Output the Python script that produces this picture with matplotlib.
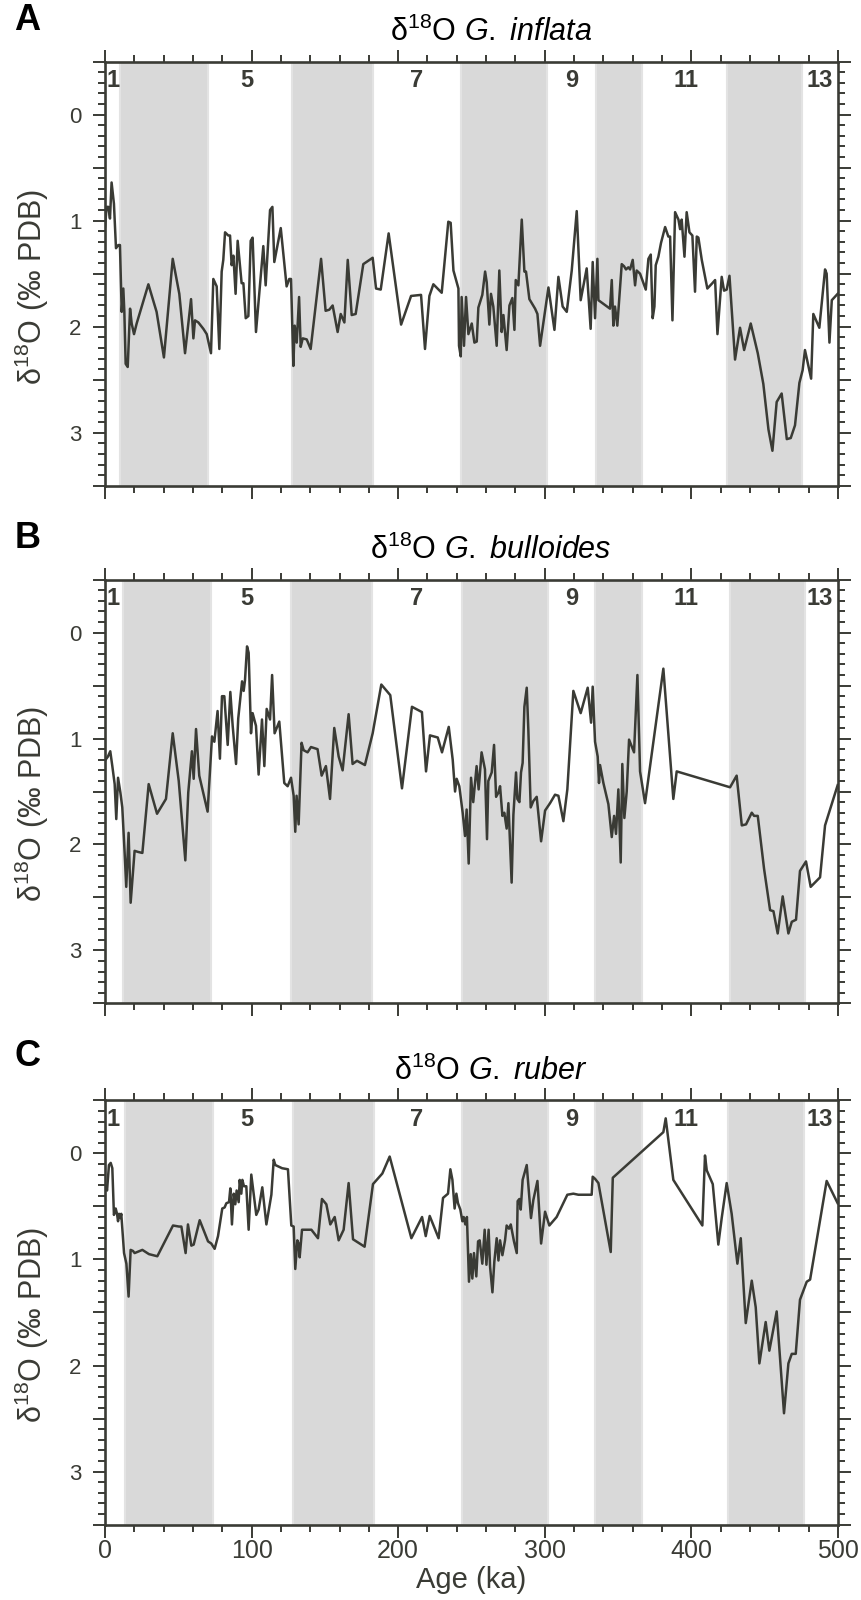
import matplotlib
matplotlib.use("Agg")
import matplotlib.pyplot as plt
from matplotlib.ticker import MultipleLocator, FuncFormatter

# --- data (age in ka, d18O in permil PDB) ---
AGE_A = [0, 1.1, 2.3, 3.4, 4.5, 6.1, 7.5, 9.1, 10.2, 11.4,
         12.5, 13.2, 14.1, 15.5, 17.1, 18.2, 19.8, 21.6, 29.6, 35.2,
         40.2, 46.2, 50.7, 54.6, 58.7, 60.3, 61.4, 63.7, 67.1, 69.4,
         72.3, 73.9, 76.2, 78.0, 79.6, 80.7, 81.9, 84.1, 85.3, 86.4,
         87.6, 89.1, 90.5, 93.2, 94.4, 96.0, 97.8, 99.4, 100.7, 103.0,
         108.0, 109.6, 112.6, 114.2, 115.5, 119.9, 123.9, 125.7, 126.9, 128.5,
         129.4, 130.8, 132.4, 133.5, 134.9, 137.6, 140.3, 147.4, 150.5, 153.0,
         155.3, 158.7, 160.8, 163.3, 165.6, 168.3, 171.0, 176.2, 182.6, 184.9,
         188.1, 193.5, 202.0, 208.8, 215.6, 218.3, 221.3, 224.0, 229.7, 234.2,
         235.8, 237.7, 241.1, 241.5, 242.7,
         243.3, 244.9, 246.3, 247.9, 250.2, 252.0, 253.6, 254.7, 257.4, 259.3,
         260.4, 262.2, 263.3, 264.9, 267.2, 269.0, 270.6, 271.8, 274.0, 275.9,
         277.9, 279.3, 280.2, 282.0, 284.3, 286.1, 287.2, 289.5, 293.4, 295.0,
         296.8, 302.5, 306.6, 309.3, 312.2, 315.0, 318.4, 321.8, 324.5, 328.6,
         331.3, 332.7, 334.3, 335.9, 336.6, 344.5, 345.7, 346.8, 347.9, 349.5,
         352.5, 354.1, 355.4, 357.0, 358.2, 360.0, 361.6, 362.7, 365.0, 367.3,
         368.9, 370.7, 372.3, 373.6, 374.8, 375.7, 377.5, 379.3, 382.1, 384.3,
         385.5, 387.1, 388.9, 391.2, 392.3, 393.4, 395.3, 396.8, 398.7, 400.7,
         402.5, 403.7, 404.8, 407.1, 410.9, 414.3, 416.2, 417.8, 420.7, 422.3,
         424.1, 426.0, 429.8, 433.2, 436.0, 440.5, 445.3, 449.1, 452.6, 455.3,
         458.2, 461.6, 465.1, 467.8, 470.7, 473.7, 475.9, 477.5, 481.7, 483.2,
         487.3, 491.2, 492.3, 494.2, 495.8, 499.8]
D18O_A = [1.06, 0.87, 0.87, 0.98, 0.64, 0.84, 1.26, 1.23, 1.23, 1.86,
          1.64, 1.86, 2.35, 2.38, 1.83, 1.97, 2.07, 1.97, 1.60, 1.86,
          2.29, 1.36, 1.69, 2.25, 1.74, 2.11, 1.94, 1.96, 2.02, 2.07,
          2.25, 1.55, 1.62, 2.21, 1.48, 1.37, 1.11, 1.14, 1.14, 1.42,
          1.33, 1.69, 1.19, 1.59, 1.59, 1.92, 1.90, 1.19, 1.16, 2.05,
          1.24, 1.61, 0.90, 0.87, 1.39, 1.07, 1.62, 1.55, 1.55, 2.37,
          1.99, 2.15, 1.72, 2.19, 2.11, 2.12, 2.21, 1.36, 1.85, 1.84,
          1.80, 2.05, 1.88, 1.96, 1.37, 1.89, 1.88, 1.41, 1.35, 1.64,
          1.65, 1.12, 1.98, 1.71, 1.70, 2.21, 1.71, 1.60, 1.68, 1.01,
          1.02, 1.47, 1.64, 2.18, 2.28,
          1.72, 2.18, 1.72, 2.07, 1.97, 2.15, 2.14, 1.82, 1.70, 1.48,
          1.58, 1.98, 1.69, 1.81, 2.18, 1.47, 2.05, 1.89, 2.22, 1.80,
          1.73, 2.03, 1.56, 1.61, 0.99, 1.48, 1.48, 1.74, 1.83, 1.88,
          2.18, 1.63, 2.03, 1.53, 1.81, 1.86, 1.47, 0.91, 1.75, 1.45,
          2.02, 1.39, 1.92, 1.36, 1.75, 1.83, 1.56, 1.99, 1.81, 1.99,
          1.41, 1.43, 1.46, 1.44, 1.46, 1.37, 1.61, 1.47, 1.50, 1.59,
          1.65, 1.36, 1.32, 1.92, 1.81, 1.42, 1.34, 1.21, 1.06, 1.15,
          1.15, 1.94, 0.92, 0.99, 1.08, 0.99, 1.34, 0.92, 1.11, 1.14,
          1.67, 1.15, 1.16, 1.37, 1.64, 1.59, 1.56, 2.07, 1.53, 1.66,
          1.65, 1.52, 2.31, 2.01, 2.22, 1.97, 2.25, 2.54, 2.97, 3.17,
          2.71, 2.63, 3.06, 3.05, 2.93, 2.53, 2.41, 2.22, 2.49, 1.88,
          2.01, 1.46, 1.50, 2.15, 1.75, 1.69]

AGE_B = [0.4, 2.0, 3.6, 5.0, 6.6, 7.7, 8.9, 10.5, 11.8, 13.4,
         14.5, 16.1, 17.5, 20.2, 22.5, 25.5, 29.8, 35.5, 41.6, 46.2,
         50.3, 54.8, 56.8, 59.3, 60.5, 62.1, 64.3, 70.0, 73.0, 74.6,
         76.8, 78.4, 79.8, 81.4, 83.7, 85.5, 87.1, 89.4, 90.9, 93.5,
         94.6, 95.5, 96.9, 98.0, 99.6, 100.7, 103.0, 104.8, 107.1, 108.7,
         110.3, 112.6, 114.0, 115.7, 118.9, 122.3, 124.6, 126.9, 128.7, 129.8,
         130.7, 132.1, 134.1, 135.5, 138.2, 140.5, 145.0, 147.8, 150.7, 153.5,
         156.4, 159.4, 162.1, 166.2, 168.9, 171.9, 177.3, 182.6, 188.5, 194.6,
         202.6, 209.4, 216.2, 219.0, 221.7, 227.0, 229.9, 234.5, 237.2, 238.8,
         239.9, 241.7, 244.0, 245.6, 246.7, 248.1, 249.7, 251.2, 253.5, 254.9,
         256.9, 259.2, 260.6,
         261.5, 263.8, 265.4, 266.8, 268.4, 269.5, 271.1, 272.4, 274.0, 275.2,
         277.4, 278.6, 280.4, 281.3, 282.7, 283.8, 284.9, 286.1, 287.7, 288.8,
         290.4, 292.2, 294.5, 297.5, 300.2, 303.6, 307.0, 309.3, 312.7, 315.4,
         319.5, 324.5, 329.3, 331.6, 332.7, 334.3, 336.1, 337.0, 337.7, 340.0,
         343.4, 345.7, 347.3, 348.6, 350.2, 351.8, 352.9, 354.3, 355.9, 357.5,
         360.9, 363.2, 365.0, 368.4, 380.9, 387.7, 390.0, 426.4, 430.9, 434.4,
         437.3, 441.2, 442.8, 445.3, 449.6, 453.7, 456.0, 458.9, 462.3, 466.2,
         468.5, 471.4, 474.1, 478.2, 481.4, 487.8, 491.2, 499.8]
D18O_B = [1.20, 1.17, 1.12, 1.26, 1.43, 1.76, 1.37, 1.51, 1.65, 2.08,
          2.40, 1.89, 2.55, 2.06, 2.07, 2.08, 1.43, 1.71, 1.57, 0.95,
          1.40, 2.15, 1.51, 1.12, 1.38, 0.91, 1.35, 1.69, 0.98, 1.03,
          0.74, 1.19, 0.60, 0.60, 1.06, 0.56, 0.88, 1.24, 0.81, 0.46,
          0.55, 0.45, 0.13, 0.19, 0.95, 0.76, 0.88, 1.34, 0.82, 1.26,
          0.72, 0.82, 0.40, 0.95, 0.84, 1.42, 1.45, 1.37, 1.54, 1.88,
          1.54, 1.81, 1.04, 1.11, 1.13, 1.08, 1.10, 1.35, 1.26, 1.57,
          0.90, 1.17, 1.30, 0.77, 1.24, 1.21, 1.25, 0.95, 0.49, 0.59,
          1.47, 0.70, 0.75, 1.31, 0.97, 0.99, 1.13, 0.89, 1.20, 1.50,
          1.38, 1.45, 1.70, 1.92, 1.67, 2.18, 1.37, 1.60, 1.26, 1.48,
          1.13, 1.29, 1.95,
          1.40, 1.32, 1.06, 1.55, 1.51, 1.45, 1.73, 1.70, 1.85, 1.61,
          2.36, 1.72, 1.32, 1.57, 1.60, 1.32, 1.23, 0.70, 0.52, 0.92,
          1.65, 1.59, 1.55, 1.97, 1.68, 1.61, 1.53, 1.54, 1.78, 1.48,
          0.55, 0.76, 0.52, 0.85, 0.51, 1.03, 1.17, 1.42, 1.25, 1.42,
          1.62, 1.93, 1.73, 1.90, 1.48, 2.17, 1.24, 1.75, 1.50, 1.01,
          1.13, 0.40, 1.31, 1.61, 0.34, 1.57, 1.31, 1.46, 1.35, 1.82,
          1.81, 1.70, 1.73, 1.73, 2.23, 2.62, 2.63, 2.84, 2.49, 2.84,
          2.73, 2.71, 2.25, 2.16, 2.40, 2.31, 1.82, 1.44]

AGE_C = [0.5, 1.4, 2.7, 3.9, 5.0, 6.1, 7.3, 8.2, 8.9, 9.6,
         10.5, 11.1, 13.0, 14.6, 16.1, 17.5, 19.1, 20.2, 25.5, 30.0,
         35.7, 46.4, 50.5, 52.1, 55.0, 56.6, 58.9, 60.5, 64.6, 70.3,
         72.5, 74.8, 77.1, 80.0, 81.6, 82.8, 84.6, 85.5, 86.6, 87.8,
         88.9, 89.8, 91.2, 91.9, 93.0, 93.7, 94.8, 96.4, 98.0, 99.8,
         103.2, 104.8, 107.3, 110.1, 113.5, 115.1, 116.2, 120.8, 124.8, 127.1,
         128.7, 129.8, 131.2, 132.1, 132.8, 134.4, 137.8, 140.8, 145.3, 148.0,
         151.0, 153.7, 156.7, 159.4, 162.8, 166.2, 169.2, 177.1, 182.8, 189.2,
         194.2, 209.0, 216.3, 218.8, 221.5, 227.6, 230.6, 234.0, 235.6, 237.0,
         238.5, 239.7, 240.8, 242.4, 243.8, 244.7, 245.8, 246.9, 248.3, 249.5,
         250.6, 251.7, 253.3, 254.5, 255.6, 257.4, 259.0, 260.2, 261.7, 262.7,
         264.3, 265.6, 267.2, 268.4, 269.5, 271.1, 272.9, 274.0, 275.6, 276.8,
         279.0, 280.9, 281.5, 282.7, 283.6, 284.9, 287.7, 290.6, 292.2, 295.0,
         297.5, 300.2, 303.1, 308.1, 315.4, 319.5, 322.9, 332.0, 332.7, 334.3,
         336.6, 345.0, 346.4, 380.9, 382.5, 387.7, 407.5, 409.3, 410.5, 414.6,
         418.4, 420.7, 424.1, 427.5, 431.4, 433.7, 437.1, 441.2, 443.9, 446.4,
         450.7, 453.2, 458.2, 463.2, 466.2, 468.5, 471.2, 474.1, 478.7, 481.0,
         492.3, 499.8]
D18O_C = [0.31, 0.35, 0.11, 0.09, 0.14, 0.58, 0.52, 0.57, 0.64, 0.57,
          0.61, 0.57, 0.94, 1.04, 1.35, 0.91, 0.92, 0.94, 0.91, 0.95,
          0.97, 0.68, 0.69, 0.69, 0.94, 0.67, 0.87, 0.86, 0.63, 0.83,
          0.85, 0.90, 0.78, 0.52, 0.51, 0.47, 0.46, 0.33, 0.67, 0.38,
          0.48, 0.35, 0.46, 0.25, 0.38, 0.25, 0.31, 0.31, 0.72, 0.20,
          0.58, 0.53, 0.32, 0.67, 0.39, 0.06, 0.11, 0.14, 0.15, 0.68,
          0.69, 1.09, 0.82, 0.85, 0.98, 0.72, 0.72, 0.72, 0.80, 0.43,
          0.48, 0.67, 0.60, 0.82, 0.72, 0.28, 0.81, 0.88, 0.29, 0.19,
          0.03, 0.80, 0.60, 0.78, 0.59, 0.80, 0.42, 0.38, 0.15, 0.25,
          0.52, 0.38, 0.47, 0.53, 0.64, 0.60, 0.67, 0.60, 1.21, 0.95,
          1.18, 0.94, 1.16, 0.83, 0.82, 1.04, 0.72, 1.05, 0.72, 1.07,
          1.31, 1.02, 0.80, 1.01, 0.82, 0.96, 0.82, 0.68, 0.71, 0.67,
          0.83, 0.94, 0.45, 0.43, 0.53, 0.25, 0.11, 0.61, 0.44, 0.26,
          0.85, 0.55, 0.68, 0.60, 0.39, 0.38, 0.39, 0.39, 0.22, 0.24,
          0.28, 0.93, 0.23, -0.20, -0.33, 0.25, 0.68, 0.02, 0.16, 0.29,
          0.86, 0.61, 0.28, 0.57, 1.04, 0.80, 1.60, 1.20, 1.45, 1.98,
          1.59, 1.86, 1.49, 2.45, 1.98, 1.89, 1.89, 1.38, 1.21, 1.19,
          0.26, 0.47]

# glacial (even MIS) intervals shaded in each panel, ka
BANDS_A = [(10.0, 70.4), (127.3, 182.9), (243.0, 301.4), (334.7, 366.6), (424.0, 475.6)]
BANDS_B = [(12.3, 72.2), (126.6, 182.4), (243.6, 302.0), (334.2, 366.3), (426.2, 477.6)]
BANDS_C = [(13.7, 73.8), (128.0, 183.7), (243.6, 302.0), (334.0, 366.3), (425.0, 476.5)]

MIS_LABELS = ["1", "5", "7", "9", "11", "13"]
MIS_AGES = [5.2, 96.8, 212.6, 318.4, 396.4, 487.8]
MIS_LEVEL = -0.32

SPECIES = ["G.\\ inflata", "G.\\ bulloides", "G.\\ ruber"]
PANEL_LETTERS = ["A", "B", "C"]

INK = "#3a3b35"
BAND_COLOR = "#d9d9d9"
BAND_EDGE = "#e3e3e3"

plt.rcParams.update({
    "font.family": ["Liberation Sans", "DejaVu Sans"],
    "mathtext.fontset": "custom",
    "mathtext.rm": "Liberation Sans",
    "mathtext.it": "Liberation Sans:italic",
    "mathtext.bf": "Liberation Sans:bold",
    "text.color": INK,
})


def _int_only(v, _pos):
    return f"{int(round(v))}" if abs(v - round(v)) < 1e-6 else ""


fig = plt.figure(figsize=(8.62, 16.0), dpi=100)
rects = [(0.1218, 0.6964, 0.8503, 0.2651),
         (0.1218, 0.3729, 0.8503, 0.2648),
         (0.1218, 0.0471, 0.8503, 0.2652)]
letter_y = [0.9869, 0.6634, 0.3395]
series = [(AGE_A, D18O_A, BANDS_A), (AGE_B, D18O_B, BANDS_B), (AGE_C, D18O_C, BANDS_C)]

for idx, (rect, (ages, vals, bands)) in enumerate(zip(rects, series)):
    ax = fig.add_axes(rect)
    for lo, hi in bands:
        ax.axvspan(lo, hi, facecolor=BAND_COLOR, edgecolor=BAND_EDGE, linewidth=1.5, zorder=0)
    ax.plot(ages, vals, color=INK, linewidth=1.8, zorder=3)

    ax.set_xlim(0, 500)
    ax.set_ylim(3.5, -0.5)
    ax.xaxis.set_major_locator(MultipleLocator(100))
    ax.xaxis.set_minor_locator(MultipleLocator(20))
    ax.yaxis.set_major_locator(MultipleLocator(0.5))
    ax.yaxis.set_minor_locator(MultipleLocator(0.1))
    ax.yaxis.set_major_formatter(FuncFormatter(_int_only))

    for sp in ax.spines.values():
        sp.set_color(INK)
        sp.set_linewidth(1.9)
    ax.tick_params(which="both", direction="out", top=True, right=True,
                   labeltop=False, labelright=False, color=INK, width=1.4,
                   labelcolor=INK)
    ax.tick_params(which="major", length=9)
    ax.tick_params(which="minor", length=5)
    ax.tick_params(axis="x", which="major", labelsize=18, pad=1.5)
    ax.tick_params(axis="y", which="major", labelsize=16, pad=8)
    if idx < 2:
        ax.tick_params(labelbottom=False)
    else:
        ax.set_xlabel("Age (ka)", fontsize=21, color=INK, labelpad=2)

    ax.set_ylabel(r"$\mathrm{\delta^{18}}$O (‰ PDB)", fontsize=22, color=INK)
    ax.yaxis.set_label_coords(-0.074, 0.47)

    for lab, age in zip(MIS_LABELS, MIS_AGES):
        ax.text(age, MIS_LEVEL, lab, ha="center", va="center", fontsize=17,
                fontweight="bold", color=INK, zorder=4)

    ax.text(0.527, 1.048, r"$\mathrm{\delta^{18}}$O $\mathit{" + SPECIES[idx] + "}$",
            transform=ax.transAxes, ha="center", va="baseline", fontsize=22, color="black")
    fig.text(0.032, letter_y[idx], PANEL_LETTERS[idx], ha="center", va="center",
             fontsize=26, fontweight="bold", color="black")

fig.savefig("out.png", dpi=100)
